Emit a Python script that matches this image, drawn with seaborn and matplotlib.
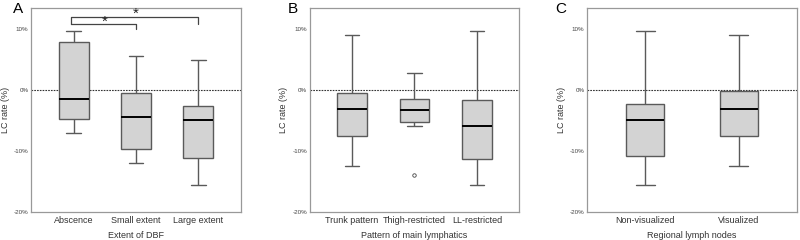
# LC rate box plots, three panels

import seaborn as sns
import pandas as pd
import matplotlib.pyplot as plt

sns.set_style('white')
plt.rcParams['font.family'] = ['Liberation Sans', 'DejaVu Sans']

# values per group, LC rate in %
# (lo, q1, median, q3, hi) -> quartiles come out exact with 5 points
dbf_groups = ['Abscence', 'Small extent', 'Large extent']
dbf_values = [
    [-7.0, -4.8, -1.5, 7.8, 9.7],
    [-12.0, -9.7, -4.4, -0.6, 5.5],
    [-15.6, -11.1, -5.0, -2.6, 4.9],
]

lymph_groups = ['Trunk pattern', 'Thigh-restricted', 'LL-restricted']
lymph_values = [
    [-12.5, -7.6, -3.1, -0.5, 8.9],
    [-14.0, -5.9, -5.3, -4.5, -3.3, -2.5, -1.5, 1.0, 2.8],
    [-15.6, -11.3, -6.0, -1.6, 9.7],
]

node_groups = ['Non-visualized', 'Visualized']
node_values = [
    [-15.6, -10.8, -4.9, -2.3, 9.7],
    [-12.5, -7.5, -3.1, -0.2, 8.9],
]

yticks = [-20, -10, 0, 10]
ytick_labels = ['-20%', '-10%', '0%', '10%']


def long_df(groups, values):
    rows = []
    for g, vals in zip(groups, values):
        for v in vals:
            rows.append({'group': g, 'lc': v})
    return pd.DataFrame(rows)


fig = plt.figure(figsize=(8, 2.4), dpi=100)
axA = fig.add_axes([0.039, 0.117, 0.262, 0.85])
axB = fig.add_axes([0.3875, 0.117, 0.261, 0.85])
axC = fig.add_axes([0.734, 0.117, 0.262, 0.85])

panels = [
    (axA, dbf_groups, dbf_values, 'Extent of DBF', 'A', 0.48, 0.68, 0.0225),
    (axB, lymph_groups, lymph_values, 'Pattern of main lymphatics', 'B', 0.47, 0.67, 0.366),
    (axC, node_groups, node_values, 'Regional lymph nodes', 'C', 0.41, 0.62, 0.701),
]

for ax, groups, values, xlabel, letter, w, pad, lx in panels:
    df = long_df(groups, values)
    sns.boxplot(data=df, x='group', y='lc', order=groups, ax=ax,
                width=w, color='#d3d3d3', linecolor='#5a5a5a', linewidth=1.0,
                fliersize=2.5,
                medianprops=dict(color='black', linewidth=1.4),
                flierprops=dict(marker='o', markerfacecolor='white',
                                markeredgecolor='#444444', markeredgewidth=0.6))
    ax.axhline(0, color='#333333', linestyle=(0, (1.5, 1)), linewidth=0.8, zorder=0.5)
    ax.set_ylim(-20, 13.4)
    ax.set_xlim(-pad, len(groups) - 1 + pad)
    ax.set_yticks(yticks)
    ax.set_yticklabels(ytick_labels, fontsize=4.5, color='#444444')
    ax.tick_params(axis='x', labelsize=6.5, colors='#333333', length=0, pad=3)
    ax.tick_params(axis='y', length=0, pad=2)
    ax.set_xlabel(xlabel, fontsize=6.5, color='#333333', labelpad=4)
    ax.set_ylabel('LC rate (%)', fontsize=6.5, color='#333333', labelpad=3)
    for s in ax.spines.values():
        s.set_color('#999999')
        s.set_linewidth(0.9)
    fig.text(lx, 0.99, letter, fontsize=11, ha='center', va='top', color='black')

# significance brackets in panel A
br_hi, br_lo, br_end = 11.9, 10.7, 10.0
axA.plot([-0.05, -0.05, 2, 2], [br_lo, br_hi, br_hi, br_lo], color='#444444', lw=0.9)
axA.plot([-0.05, 1, 1], [br_lo, br_lo, br_end], color='#444444', lw=0.9)
axA.text(1, br_hi - 0.6, '*', ha='center', va='bottom', fontsize=11, color='#222222')
axA.text(0.5, br_lo - 0.7, '*', ha='center', va='bottom', fontsize=11, color='#222222')

fig.savefig('out.png', dpi=100)
